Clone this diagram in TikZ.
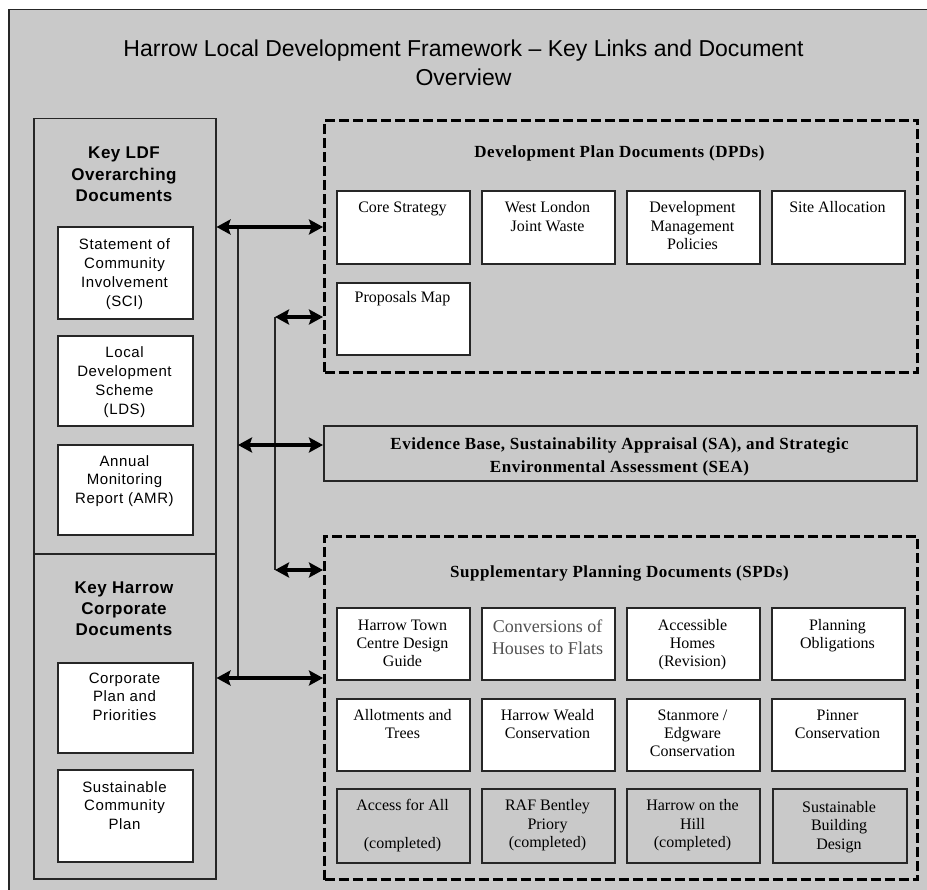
\documentclass[tikz,border=0pt]{standalone}
\usepackage{fontspec}
\setmainfont{Liberation Serif}
\setsansfont{Liberation Sans}
\usetikzlibrary{arrows.meta}
\definecolor{diagbg}{rgb}{0.79,0.79,0.79}
\definecolor{convgray}{rgb}{0.32,0.32,0.32}
\newcommand\mybox[6]{\node[#6, minimum width=#4, minimum height=#5, anchor=north west] (#1) at (#2,#3) {};}
\begin{document}
\begin{tikzpicture}[x=1pt,y=-1pt,
  framebox/.style={draw=black!85, line width=1.5pt, fill=diagbg, inner sep=0pt},
  colbox/.style={draw=black!85, line width=1.5pt, fill=diagbg, inner sep=0pt},
  wbox/.style={draw=black!85, line width=1.8pt, fill=white, inner sep=0pt},
  gbox/.style={draw=black!85, line width=1.8pt, fill=diagbg, inner sep=0pt},
  dbox/.style={draw=black, line width=3pt, dash pattern=on 10pt off 4pt, fill=diagbg, inner sep=0pt},
  ttl/.style={font=\sffamily\fontsize{23}{29}\selectfont, align=center, anchor=base, inner sep=0pt},
  lhead/.style={font=\sffamily\bfseries\fontsize{17}{21.2}\selectfont\addfontfeature{LetterSpace=3}, align=center, anchor=base, inner sep=0pt},
  ltxt/.style={font=\sffamily\fontsize{15}{18.7}\selectfont\addfontfeature{LetterSpace=4}, align=center, anchor=base, inner sep=0pt},
  shead/.style={font=\rmfamily\bfseries\fontsize{17}{23}\selectfont\addfontfeature{LetterSpace=3}, align=center, anchor=base, inner sep=0pt},
  stxt/.style={font=\rmfamily\fontsize{16}{18.3}\selectfont, align=center, anchor=base, inner sep=0pt},
  ctxt/.style={font=\rmfamily\fontsize{18}{22}\selectfont, text=convgray, align=center, anchor=base, inner sep=0pt},
  arr/.style={line width=3.3pt, {Stealth[length=14pt,width=15pt,inset=2.5pt]}-{Stealth[length=14pt,width=15pt,inset=2.5pt]}},
  vline/.style={line width=1.5pt, draw=black!85}
]
\useasboundingbox (0,0) rectangle (927,890);
\fill[white] (0,0) rectangle (927,890);
\mybox{frame}{8}{9}{940}{900}{framebox}
\node[ttl] (title) at (463.5,86) {Harrow Local Development Framework – Key Links and Document\\Overview};

% left column
\mybox{ldf}{33}{118}{182}{435}{colbox}
\mybox{hcd}{33}{553}{182}{325}{colbox}
\node[lhead] (ldft) at (124,201.4) {Key LDF\\Overarching\\Documents};
\node[lhead] (hcdt) at (124,635.4) {Key Harrow\\Corporate\\Documents};
\mybox{sci}{57}{226}{135}{92}{wbox}
\mybox{lds}{57}{335}{135}{90}{wbox}
\mybox{amr}{57}{444}{135}{90}{wbox}
\mybox{cpp}{57}{662}{135}{90}{wbox}
\mybox{scp}{57}{769}{135}{92}{wbox}
\node[ltxt] (scit) at (124.5,306.1) {Statement of\\Community\\Involvement\\(SCI)};
\node[ltxt] (ldst) at (124.5,414.1) {Local\\Development\\Scheme\\(LDS)};
\node[ltxt] (amrt) at (124.5,503.4) {Annual\\Monitoring\\Report (AMR)};
\node[ltxt] (cppt) at (124.5,720.4) {Corporate\\Plan and\\Priorities};
\node[ltxt] (scpt) at (124.5,829.4) {Sustainable\\Community\\Plan};

% DPD
\mybox{dpd}{323}{119}{593}{252}{dbox}
\node[shead] (dpdt) at (619.5,158) {Development Plan Documents (DPDs)};
\mybox{core}{336}{190}{133}{73}{wbox}
\mybox{wlj}{481}{190}{133}{73}{wbox}
\mybox{dmp}{626}{190}{133}{73}{wbox}
\mybox{site}{771}{190}{133}{73}{wbox}
\mybox{prop}{336}{282}{133}{72}{wbox}
\node[stxt] (coret) at (402.5,213) {Core Strategy};
\node[stxt] (wljt) at (547.5,231.3) {West London\\Joint Waste};
\node[stxt] (dmpt) at (692.5,249.6) {Development\\Management\\Policies};
\node[stxt] (sitet) at (837.5,213) {Site Allocation};
\node[stxt] (propt) at (402.5,303) {Proposals Map};

% Evidence
\mybox{ev}{323}{425}{593}{55}{gbox}
\node[shead] (evt) at (619.5,473) {Evidence Base, Sustainability Appraisal (SA), and Strategic\\Environmental Assessment (SEA)};

% SPD
\mybox{spd}{323}{535}{593}{343}{dbox}
\node[shead] (spdt) at (619.5,577) {Supplementary Planning Documents (SPDs)};
\mybox{htc}{336}{607}{133}{72}{wbox}
\mybox{conv}{481}{607}{133}{72}{wbox}
\mybox{acc}{626}{607}{133}{72}{wbox}
\mybox{plan}{771}{607}{133}{72}{wbox}
\mybox{allot}{336}{698}{133}{72}{wbox}
\mybox{hwc}{481}{698}{133}{72}{wbox}
\mybox{stan}{626}{698}{133}{72}{wbox}
\mybox{pin}{771}{698}{133}{72}{wbox}
\mybox{afa}{336}{788}{133}{74}{gbox}
\mybox{raf}{481}{788}{133}{74}{gbox}
\mybox{hoth}{626}{788}{133}{74}{gbox}
\mybox{sbd}{772}{788}{134}{74}{gbox}
\node[stxt] (htct) at (402.5,666.6) {Harrow Town\\Centre Design\\Guide};
\node[ctxt] (convt) at (547.5,654) {Conversions of\\Houses to Flats};
\node[stxt] (acct) at (692.5,666.6) {Accessible\\Homes\\(Revision)};
\node[stxt] (plant) at (837.5,648.3) {Planning\\Obligations};
\node[stxt] (allott) at (402.5,738.3) {Allotments and\\Trees};
\node[stxt] (hwct) at (547.5,738.3) {Harrow Weald\\Conservation};
\node[stxt] (stant) at (692.5,756.6) {Stanmore /\\Edgware\\Conservation};
\node[stxt] (pint) at (837.5,738.3) {Pinner\\Conservation};
\node[stxt] (afat) at (402.5,848) {Access for All\\[19.7pt](completed)};
\node[stxt] (raft) at (547.5,847.5) {RAF Bentley\\Priory\\(completed)};
\node[stxt] (hotht) at (692.5,847.5) {Harrow on the\\Hill\\(completed)};
\node[stxt] (sbdt) at (839,849) {Sustainable\\Building\\Design};

% connectors
\coordinate (ja) at (238,227);
\coordinate (jb) at (238,678);
\coordinate (je) at (238,445);
\coordinate (ka) at (275,317);
\coordinate (kb) at (275,570);
\draw[vline] (ja) -- (jb);
\draw[vline] (ka) -- (kb);
\draw[arr] (ldf.east |- ja) -- (dpd.west |- ja);
\draw[arr] (ka) -- (dpd.west |- ka);
\draw[arr] (je) -- (ev.west |- je);
\draw[arr] (kb) -- (spd.west |- kb);
\draw[arr] (hcd.east |- jb) -- (spd.west |- jb);
\end{tikzpicture}
\end{document}
